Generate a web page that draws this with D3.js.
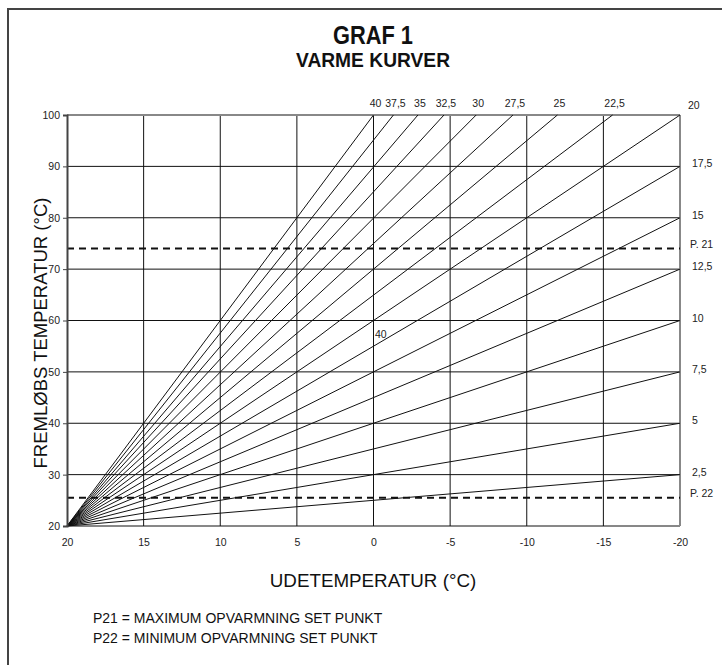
<!DOCTYPE html>
<html>
<head>
<meta charset="utf-8">
<script src="https://cdn.jsdelivr.net/npm/d3@7"></script>
<style>
  html, body { margin: 0; padding: 0; background: #fff; }
  svg { display: block; }
  .narrow { font-family: "Liberation Sans Narrow", "Arial Narrow", "Liberation Sans", Arial, sans-serif; }
  .reg { font-family: "Liberation Sans", Arial, sans-serif; }
</style>
</head>
<body>
<svg id="chart" width="722" height="665"></svg>
<script>
// Heating curves: outdoor temperature (x) vs. flow temperature (y)
const xTicks = [20, 15, 10, 5, 0, -5, -10, -15, -20];
const xTickLabels = ["20", "15", "10", "5", "0", "-5", "-10", "-15", "-20"];
const yTicks = [20, 30, 40, 50, 60, 70, 80, 90, 100];
const yTickLabels = ["20", "30", "40", "50", "60", "70", "80", "90", "100"];

// every curve starts at (20 °C, 20 °C)
const startPoint = [20, 20];
const curveValues = [2.5, 5, 7.5, 10, 12.5, 15, 17.5, 20, 22.5, 25, 27.5, 30, 32.5, 35, 37.5, 40];
const curveLabels = ["2,5", "5", "7,5", "10", "12,5", "15", "17,5", "20", "22,5", "25", "27,5", "30", "32,5", "35", "37,5", "40"];
const curveEndX = [-20, -20, -20, -20, -20, -20, -20, -20, -15.6, -12, -9.1, -6.7, -4.6, -2.9, -1.3, 0];
const curveEndY = [30, 40, 50, 60, 70, 80, 90, 100, 100, 100, 100, 100, 100, 100, 100, 100];

// set points
const setPointNames = ["P. 21", "P. 22"];
const setPointValues = [74, 25.5];

const svg = d3.select("#chart");
const W = 722, H = 665;

// outer frame
svg.append("rect")
  .attr("x", 8).attr("y", 9).attr("width", W + 10).attr("height", H + 10)
  .attr("fill", "none").attr("stroke", "#444").attr("stroke-width", 2);

const plot = { left: 67, right: 680, top: 115, bottom: 526 };
const x = d3.scaleLinear().domain([20, -20]).range([plot.left, plot.right]);
const y = d3.scaleLinear().domain([20, 100]).range([plot.bottom, plot.top]);

// titles (condensed bold)
svg.append("text").attr("class", "narrow")
  .attr("x", 373).attr("y", 44).attr("text-anchor", "middle")
  .attr("font-size", 26).attr("font-weight", "bold").attr("fill", "#111")
  .attr("textLength", 80).attr("lengthAdjust", "spacingAndGlyphs")
  .text("GRAF 1");
svg.append("text").attr("class", "narrow")
  .attr("x", 373).attr("y", 67).attr("text-anchor", "middle")
  .attr("font-size", 20).attr("font-weight", "bold").attr("fill", "#111")
  .attr("textLength", 154).attr("lengthAdjust", "spacingAndGlyphs")
  .text("VARME KURVER");

// grid
const g = svg.append("g");
g.selectAll("line.vgrid").data(xTicks.slice(1, -1)).join("line")
  .attr("class", "vgrid")
  .attr("x1", d => x(d)).attr("x2", d => x(d))
  .attr("y1", y(100)).attr("y2", y(20))
  .attr("stroke", "#111").attr("stroke-width", 1);
g.selectAll("line.hgrid").data(yTicks.slice(0, -1)).join("line")
  .attr("class", "hgrid")
  .attr("x1", x(20)).attr("x2", x(-20))
  .attr("y1", d => y(d)).attr("y2", d => y(d))
  .attr("stroke", "#111").attr("stroke-width", 1);

// frame of plot: top and right in grey, left darker
g.append("line").attr("x1", x(20)).attr("x2", x(-20)).attr("y1", y(100)).attr("y2", y(100))
  .attr("stroke", "#888").attr("stroke-width", 2);
g.append("line").attr("x1", x(-20)).attr("x2", x(-20)).attr("y1", y(100)).attr("y2", y(20))
  .attr("stroke", "#888").attr("stroke-width", 2);

// y axis
const yAxis = d3.axisLeft(y).tickValues(yTicks)
  .tickFormat((d, i) => yTickLabels[i]).tickSize(4).tickPadding(3);
const ya = svg.append("g").attr("transform", `translate(${plot.left},0)`).call(yAxis);
ya.select(".domain").attr("stroke", "#444").attr("stroke-width", 2);
ya.selectAll(".tick line").attr("stroke", "#444");
ya.selectAll(".tick text").attr("class", "narrow").attr("font-size", 10.5).attr("fill", "#222");

// x axis labels (no line)
const xAxis = d3.axisBottom(x).tickValues(xTicks)
  .tickFormat((d, i) => xTickLabels[i]).tickSize(0).tickPadding(13);
const xa = svg.append("g").attr("transform", `translate(0,${plot.bottom})`).call(xAxis);
xa.select(".domain").remove();
xa.selectAll(".tick text").attr("class", "narrow").attr("font-size", 10.5).attr("fill", "#222");

// curves
const curves = curveValues.map((v, i) => ({
  value: v, label: curveLabels[i], x1: startPoint[0], y1: startPoint[1], x2: curveEndX[i], y2: curveEndY[i]
}));
g.selectAll("line.curve").data(curves).join("line")
  .attr("class", "curve")
  .attr("x1", d => x(d.x1)).attr("y1", d => y(d.y1))
  .attr("x2", d => x(d.x2)).attr("y2", d => y(d.y2))
  .attr("stroke", "#111").attr("stroke-width", 1);

// curve labels
const labG = svg.append("g").attr("class", "narrow").attr("font-size", 10.5).attr("fill", "#222");
labG.selectAll("text").data(curves).join("text")
  .attr("x", d => d.y2 < 100 ? x(d.x2) + 12 : (d.x2 === -20 ? x(d.x2) + 8 : x(d.x2) + 2))
  .attr("y", d => d.y2 < 100 ? y(d.y2) + 1 : (d.x2 === -20 ? y(d.y2) - 6 : y(d.y2) - 8))
  .attr("text-anchor", d => d.y2 < 100 || d.x2 === -20 ? "start" : "middle")
  .text(d => d.label);

// label on the steepest curve inside the plot
labG.append("text").attr("x", x(-0.1)).attr("y", y(57.4) + 4).text(curveLabels[curveLabels.length - 1]);

// set point dashed lines
const sp = setPointValues.map((v, i) => ({ v, name: setPointNames[i] }));
g.selectAll("line.sp").data(sp).join("line")
  .attr("class", "sp")
  .attr("x1", x(20)).attr("x2", x(-20))
  .attr("y1", d => y(d.v)).attr("y2", d => y(d.v))
  .attr("stroke", "#111").attr("stroke-width", 2).attr("stroke-dasharray", "7,5");
labG.selectAll("text.sp").data(sp).join("text")
  .attr("class", "sp")
  .attr("x", x(-20) + 10).attr("y", d => y(d.v) - 1)
  .text(d => d.name);

// axis titles
svg.append("text").attr("class", "reg")
  .attr("transform", `translate(47,333) rotate(-90)`)
  .attr("text-anchor", "middle").attr("font-size", 18.5).attr("fill", "#111")
  .text("FREMLØBS TEMPERATUR (°C)");
svg.append("text").attr("class", "reg")
  .attr("x", 373).attr("y", 587).attr("text-anchor", "middle")
  .attr("font-size", 18.8).attr("fill", "#111")
  .text("UDETEMPERATUR (°C)");

// notes
svg.append("text").attr("class", "reg").attr("x", 93).attr("y", 623)
  .attr("font-size", 14).attr("fill", "#111").text("P21 = MAXIMUM OPVARMNING SET PUNKT");
svg.append("text").attr("class", "reg").attr("x", 93).attr("y", 643)
  .attr("font-size", 14).attr("fill", "#111").text("P22 = MINIMUM OPVARMNING SET PUNKT");
</script>
</body>
</html>
